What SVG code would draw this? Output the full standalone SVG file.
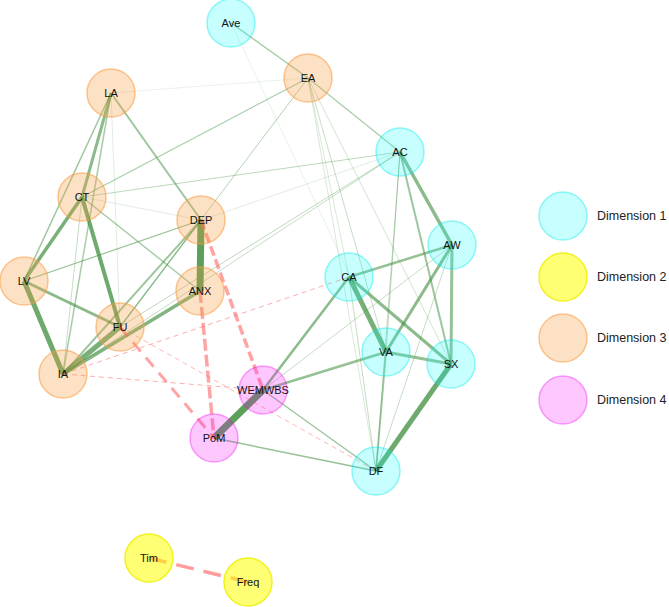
<svg xmlns="http://www.w3.org/2000/svg" width="669" height="607" viewBox="0 0 669 607">
<style>
.g{stroke:#3e8e3e;fill:none;stroke-linecap:butt}
.r{stroke:#ff5a5a;fill:none}
.n circle{stroke-width:1.5}
.d1{fill:#00ffff;fill-opacity:0.22;stroke:#00e6e6;stroke-opacity:0.4}
.d2{fill:#ffff00;fill-opacity:0.55;stroke:#eeee00;stroke-opacity:0.8}
.d3{fill:#f79a40;fill-opacity:0.3;stroke:#f79a40;stroke-opacity:0.55}
.d4{fill:#ff00ff;fill-opacity:0.22;stroke:#ee00ee;stroke-opacity:0.35}
text{font-family:"Liberation Sans",Arial,sans-serif;fill:#111}
.lbl{font-size:11px;text-anchor:middle}
.leg{font-size:12.5px;fill:#222}
</style>
<rect width="669" height="607" fill="#ffffff"/>
<g id="connectors">
<!-- faint green -->
<line class="g" x1="308" y1="78" x2="111" y2="93" stroke-width="0.8" stroke-opacity="0.15"/>
<line class="g" x1="82" y1="197" x2="201" y2="220" stroke-width="0.8" stroke-opacity="0.2"/>
<line class="g" x1="111" y1="93" x2="120" y2="327" stroke-width="0.8" stroke-opacity="0.2"/>
<line class="g" x1="400" y1="152" x2="24" y2="281" stroke-width="0.8" stroke-opacity="0.2"/>
<line class="g" x1="231" y1="23" x2="386" y2="352" stroke-width="0.6" stroke-opacity="0.2"/>
<line class="g" x1="308" y1="78" x2="349" y2="277" stroke-width="0.8" stroke-opacity="0.25"/>
<line class="g" x1="308" y1="78" x2="376" y2="471" stroke-width="0.8" stroke-opacity="0.25"/>
<line class="g" x1="308" y1="78" x2="451" y2="364" stroke-width="0.8" stroke-opacity="0.3"/>
<line class="g" x1="308" y1="78" x2="386" y2="352" stroke-width="1" stroke-opacity="0.3"/>
<line class="g" x1="400" y1="152" x2="63" y2="374" stroke-width="1" stroke-opacity="0.3"/>
<line class="g" x1="400" y1="152" x2="120" y2="327" stroke-width="1" stroke-opacity="0.35"/>
<line class="g" x1="82" y1="197" x2="400" y2="152" stroke-width="1" stroke-opacity="0.35"/>
<line class="g" x1="400" y1="152" x2="386" y2="352" stroke-width="1" stroke-opacity="0.35"/>
<line class="g" x1="400" y1="152" x2="376" y2="471" stroke-width="1" stroke-opacity="0.3"/>
<line class="g" x1="452" y1="245" x2="376" y2="471" stroke-width="1" stroke-opacity="0.3"/>
<line class="g" x1="349" y1="277" x2="376" y2="471" stroke-width="1" stroke-opacity="0.3"/>
<line class="g" x1="452" y1="245" x2="263" y2="390" stroke-width="1" stroke-opacity="0.3"/>
<line class="g" x1="82" y1="197" x2="63" y2="374" stroke-width="1" stroke-opacity="0.3"/>
<!-- medium green -->
<line class="g" x1="231" y1="23" x2="308" y2="78" stroke-width="1.5" stroke-opacity="0.45"/>
<line class="g" x1="308" y1="78" x2="400" y2="152" stroke-width="1.2" stroke-opacity="0.45"/>
<line class="g" x1="308" y1="78" x2="82" y2="197" stroke-width="1.2" stroke-opacity="0.45"/>
<line class="g" x1="308" y1="78" x2="120" y2="327" stroke-width="1" stroke-opacity="0.4"/>
<line class="g" x1="111" y1="93" x2="201" y2="220" stroke-width="2" stroke-opacity="0.5"/>
<line class="g" x1="111" y1="93" x2="24" y2="281" stroke-width="1.5" stroke-opacity="0.5"/>
<line class="g" x1="111" y1="93" x2="63" y2="374" stroke-width="1.5" stroke-opacity="0.45"/>
<line class="g" x1="63" y1="374" x2="201" y2="220" stroke-width="2" stroke-opacity="0.5"/>
<line class="g" x1="120" y1="327" x2="201" y2="220" stroke-width="1.5" stroke-opacity="0.45"/>
<line class="g" x1="24" y1="281" x2="201" y2="220" stroke-width="1.2" stroke-opacity="0.45"/>
<line class="g" x1="82" y1="197" x2="200" y2="291" stroke-width="1.5" stroke-opacity="0.45"/>
<line class="g" x1="263" y1="390" x2="376" y2="471" stroke-width="1.5" stroke-opacity="0.5"/>
<line class="g" x1="214" y1="438" x2="376" y2="471" stroke-width="1.5" stroke-opacity="0.55"/>
<line class="g" x1="386" y1="352" x2="376" y2="471" stroke-width="1.8" stroke-opacity="0.5"/>
<line class="g" x1="400" y1="152" x2="451" y2="364" stroke-width="2" stroke-opacity="0.5"/>
<!-- strong green -->
<line class="g" x1="349" y1="277" x2="452" y2="245" stroke-width="2.5" stroke-opacity="0.55"/>
<line class="g" x1="349" y1="277" x2="263" y2="390" stroke-width="2.5" stroke-opacity="0.6"/>
<line class="g" x1="263" y1="390" x2="386" y2="352" stroke-width="2.5" stroke-opacity="0.55"/>
<line class="g" x1="24" y1="281" x2="120" y2="327" stroke-width="3" stroke-opacity="0.6"/>
<line class="g" x1="452" y1="245" x2="451" y2="364" stroke-width="3" stroke-opacity="0.55"/>
<line class="g" x1="452" y1="245" x2="386" y2="352" stroke-width="3" stroke-opacity="0.6"/>
<line class="g" x1="349" y1="277" x2="451" y2="364" stroke-width="3" stroke-opacity="0.6"/>
<line class="g" x1="386" y1="352" x2="451" y2="364" stroke-width="3" stroke-opacity="0.55"/>
<line class="g" x1="400" y1="152" x2="452" y2="245" stroke-width="3.5" stroke-opacity="0.6"/>
<line class="g" x1="111" y1="93" x2="82" y2="197" stroke-width="3" stroke-opacity="0.6"/>
<line class="g" x1="82" y1="197" x2="24" y2="281" stroke-width="3.5" stroke-opacity="0.7"/>
<line class="g" x1="63" y1="374" x2="200" y2="291" stroke-width="3.5" stroke-opacity="0.65"/>
<line class="g" x1="82" y1="197" x2="120" y2="327" stroke-width="4" stroke-opacity="0.75"/>
<line class="g" x1="63" y1="374" x2="120" y2="327" stroke-width="5" stroke-opacity="0.7"/>
<line class="g" x1="24" y1="281" x2="63" y2="374" stroke-width="5" stroke-opacity="0.75"/>
<line class="g" x1="349" y1="277" x2="386" y2="352" stroke-width="5" stroke-opacity="0.7"/>
<line class="g" x1="451" y1="364" x2="376" y2="471" stroke-width="5" stroke-opacity="0.75"/>
<line class="g" x1="263" y1="390" x2="214" y2="438" stroke-width="7" stroke-opacity="0.85"/>
<line class="g" x1="201" y1="220" x2="200" y2="291" stroke-width="7" stroke-opacity="0.85"/>
<!-- red dashed -->
<line class="r" x1="63" y1="374" x2="349" y2="277" stroke-width="1" stroke-opacity="0.5" stroke-dasharray="5,4"/>
<line class="r" x1="63" y1="374" x2="263" y2="390" stroke-width="1" stroke-opacity="0.5" stroke-dasharray="5,4"/>
<line class="r" x1="120" y1="327" x2="376" y2="471" stroke-width="1" stroke-opacity="0.45" stroke-dasharray="5,4"/>
<line class="r" x1="120" y1="327" x2="214" y2="438" stroke-width="3" stroke-opacity="0.55" stroke-dasharray="12,8"/>
<line class="r" x1="201" y1="220" x2="263" y2="390" stroke-width="3.5" stroke-opacity="0.55" stroke-dasharray="10,4"/>
<line class="r" x1="200" y1="291" x2="214" y2="438" stroke-width="3.5" stroke-opacity="0.55" stroke-dasharray="12,4"/>
<line class="r" x1="149" y1="558" x2="248" y2="582" stroke-width="3.5" stroke-opacity="0.6" stroke-dasharray="18,10"/>
</g>
<g id="nodes" class="n">
<g id="Ave"><circle class="d1" cx="231" cy="23" r="24"/><text class="lbl" x="231" y="23" dy=".35em">Ave</text></g>
<g id="EA"><circle class="d3" cx="308" cy="78" r="24"/><text class="lbl" x="308" y="78" dy=".35em">EA</text></g>
<g id="LA"><circle class="d3" cx="111" cy="93" r="24"/><text class="lbl" x="111" y="93" dy=".35em">LA</text></g>
<g id="AC"><circle class="d1" cx="400" cy="152" r="24"/><text class="lbl" x="400" y="152" dy=".35em">AC</text></g>
<g id="CT"><circle class="d3" cx="82" cy="197" r="24"/><text class="lbl" x="82" y="197" dy=".35em">CT</text></g>
<g id="DEP"><circle class="d3" cx="201" cy="220" r="24"/><text class="lbl" x="201" y="220" dy=".35em">DEP</text></g>
<g id="AW"><circle class="d1" cx="452" cy="245" r="24"/><text class="lbl" x="452" y="245" dy=".35em">AW</text></g>
<g id="LV"><circle class="d3" cx="24" cy="281" r="24"/><text class="lbl" x="24" y="281" dy=".35em">LV</text></g>
<g id="CA"><circle class="d1" cx="349" cy="277" r="24"/><text class="lbl" x="349" y="277" dy=".35em">CA</text></g>
<g id="ANX"><circle class="d3" cx="200" cy="291" r="24"/><text class="lbl" x="200" y="291" dy=".35em">ANX</text></g>
<g id="FU"><circle class="d3" cx="120" cy="327" r="24"/><text class="lbl" x="120" y="327" dy=".35em">FU</text></g>
<g id="VA"><circle class="d1" cx="386" cy="352" r="24"/><text class="lbl" x="386" y="352" dy=".35em">VA</text></g>
<g id="SX"><circle class="d1" cx="451" cy="364" r="24"/><text class="lbl" x="451" y="364" dy=".35em">SX</text></g>
<g id="IA"><circle class="d3" cx="63" cy="374" r="24"/><text class="lbl" x="63" y="374" dy=".35em">IA</text></g>
<g id="WEMWBS"><circle class="d4" cx="263" cy="390" r="24"/><text class="lbl" x="263" y="390" dy=".35em">WEMWBS</text></g>
<g id="PoM"><circle class="d4" cx="214" cy="438" r="24"/><text class="lbl" x="214" y="438" dy=".35em">PoM</text></g>
<g id="DF"><circle class="d1" cx="376" cy="471" r="24"/><text class="lbl" x="376" y="471" dy=".35em">DF</text></g>
<g id="Tim"><circle class="d2" cx="149" cy="558" r="24"/><text class="lbl" x="149" y="558" dy=".35em">Tim</text></g>
<g id="Freq"><circle class="d2" cx="248" cy="582" r="24"/><text class="lbl" x="248" y="582" dy=".35em">Freq</text></g>
</g>
<g id="legend" class="n">
<g id="leg1"><circle class="d1" cx="563" cy="216" r="24"/><text class="leg" x="597" y="216" dy=".35em">Dimension 1</text></g>
<g id="leg2"><circle class="d2" cx="563" cy="277" r="24"/><text class="leg" x="597" y="277" dy=".35em">Dimension 2</text></g>
<g id="leg3"><circle class="d3" cx="563" cy="338" r="24"/><text class="leg" x="597" y="338" dy=".35em">Dimension 3</text></g>
<g id="leg4"><circle class="d4" cx="563" cy="400" r="24"/><text class="leg" x="597" y="400" dy=".35em">Dimension 4</text></g>
</g>
</svg>
